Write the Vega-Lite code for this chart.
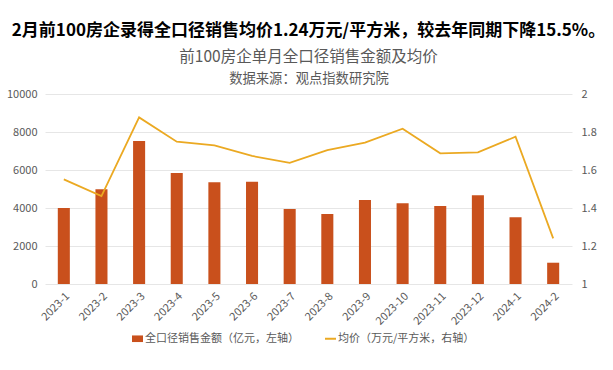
{
  "$schema": "https://vega.github.io/schema/vega-lite/v6.json",
  "width": 527,
  "height": 190,
  "autosize": {"type": "none"},
  "padding": {"left": 45, "top": 94, "right": 41, "bottom": 86},
  "background": "white",
  "config": {"view": {"stroke": null}, "font": "Noto Sans CJK SC"},
  "title": {
    "text": "2月前100房企录得全口径销售均价1.24万元/平方米，较去年同期下降15.5%。",
    "subtitle": "前100房企单月全口径销售金额及均价",
    "fontSize": 17,
    "fontWeight": "bold",
    "color": "#000000",
    "subtitleFontSize": 15.5,
    "subtitleColor": "#595959",
    "subtitlePadding": 10,
    "anchor": "middle",
    "offset": 5
  },
  "data": {
    "values": [
      {"month": "2023-1", "amount": 4000, "price": 1.551},
      {"month": "2023-2", "amount": 4990, "price": 1.463},
      {"month": "2023-3", "amount": 7530, "price": 1.877},
      {"month": "2023-4", "amount": 5840, "price": 1.749},
      {"month": "2023-5", "amount": 5350, "price": 1.730},
      {"month": "2023-6", "amount": 5380, "price": 1.674},
      {"month": "2023-7", "amount": 3950, "price": 1.638},
      {"month": "2023-8", "amount": 3680, "price": 1.705},
      {"month": "2023-9", "amount": 4420, "price": 1.744},
      {"month": "2023-10", "amount": 4250, "price": 1.817},
      {"month": "2023-11", "amount": 4100, "price": 1.688},
      {"month": "2023-12", "amount": 4670, "price": 1.693},
      {"month": "2024-1", "amount": 3510, "price": 1.775},
      {"month": "2024-2", "amount": 1120, "price": 1.24}
    ]
  },
  "layer": [
    {
      "mark": {"type": "bar"},
      "encoding": {
        "x": {
          "field": "month", "type": "ordinal", "sort": null,
          "scale": {"paddingInner": 0.68, "paddingOuter": 0.34},
          "axis": {"orient": "bottom", "title": null, "labelAngle": -45, "labelFontSize": 11, "labelColor": "#595959", "ticks": false, "domain": false, "grid": false, "labelPadding": 6}
        },
        "y": {
          "field": "amount", "type": "quantitative",
          "scale": {"domain": [0, 10000], "nice": false},
          "axis": {"title": null, "values": [0, 2000, 4000, 6000, 8000, 10000], "format": "d", "labelFontSize": 11, "labelColor": "#595959", "ticks": false, "domain": false, "gridColor": "#E6E6E6", "labelPadding": 8}
        },
        "color": {
          "datum": "全口径销售金额（亿元，左轴）", "type": "nominal",
          "scale": {"domain": ["全口径销售金额（亿元，左轴）", "均价（万元/平方米，右轴）"], "range": ["#C9501C", "#EBA922"]},
          "legend": {
            "orient": "none", "legendX": 87, "legendY": 239,
            "direction": "horizontal", "title": null,
            "labelFontSize": 11, "labelColor": "#595959", "labelLimit": 400, "symbolSize": 121,
            "columnPadding": 22, "labelOffset": 2,
            "encode": {
              "symbols": {
                "update": {
                  "shape": {"signal": "datum.value === '均价（万元/平方米，右轴）' ? 'stroke' : 'M-1,-0.6H1V0.6H-1Z'"},
                  "fill": {"signal": "datum.value === '均价（万元/平方米，右轴）' ? 'transparent' : '#C9501C'"},
                  "stroke": {"signal": "datum.value === '均价（万元/平方米，右轴）' ? '#EBA922' : '#C9501C'"},
                  "strokeWidth": {"signal": "datum.value === '均价（万元/平方米，右轴）' ? 2 : 0"},
                  "opacity": {"value": 1}
                }
              }
            }
          }
        }
      }
    },
    {
      "mark": {"type": "line", "strokeWidth": 1.8},
      "encoding": {
        "x": {
          "field": "month", "type": "ordinal", "sort": null,
          "axis": {"orient": "top", "title": "数据来源：观点指数研究院", "titleFontSize": 13.3, "titleColor": "#595959", "titleFontWeight": "normal", "labels": false, "ticks": false, "domain": false, "grid": false, "titlePadding": 9}
        },
        "y": {
          "field": "price", "type": "quantitative",
          "scale": {"domain": [1, 2], "nice": false},
          "axis": {"orient": "right", "title": null, "values": [1, 1.2, 1.4, 1.6, 1.8, 2], "format": "~g", "labelFontSize": 11, "labelColor": "#595959", "ticks": false, "domain": false, "grid": false, "labelPadding": 9}
        },
        "color": {"datum": "均价（万元/平方米，右轴）", "type": "nominal"}
      }
    }
  ],
  "resolve": {"scale": {"y": "independent"}, "axis": {"x": "independent"}}
}
